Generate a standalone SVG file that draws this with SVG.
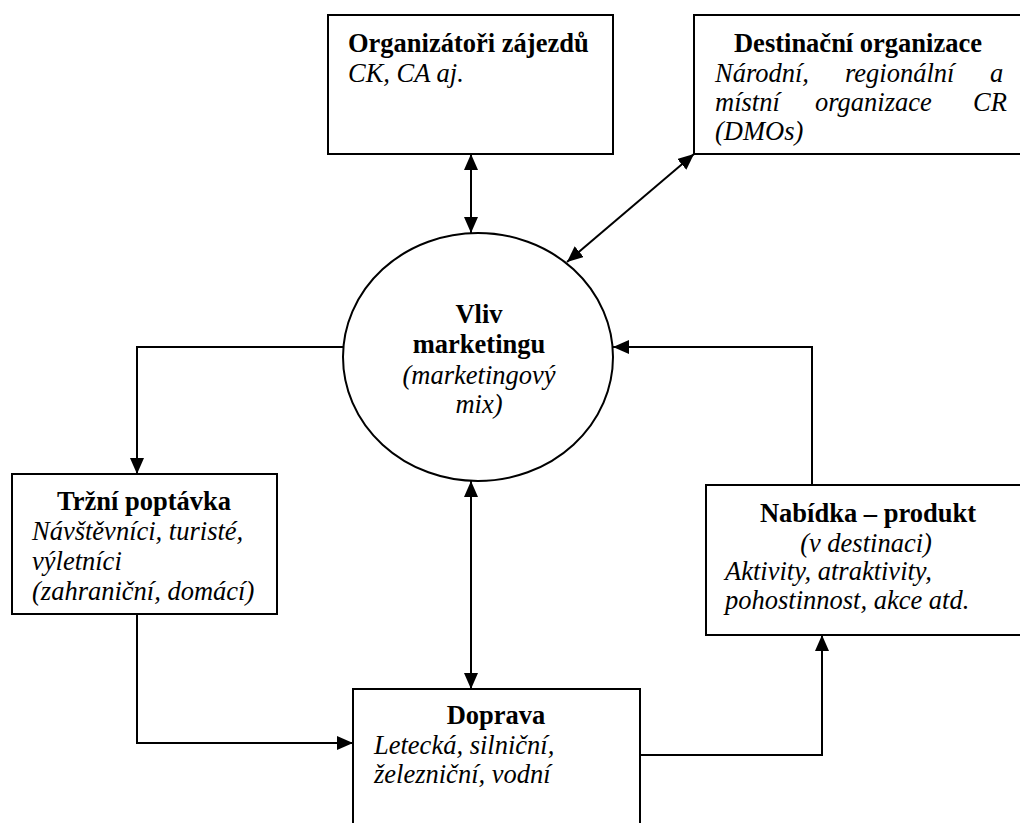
<svg xmlns="http://www.w3.org/2000/svg" width="1020" height="823" viewBox="0 0 1020 823">
<style>
.box{fill:#fff;stroke:#000;stroke-width:2}
.ell{fill:#fff;stroke:#000;stroke-width:2}
.con{fill:none;stroke:#000;stroke-width:2}
text{font-family:"Liberation Serif","Times New Roman",serif;font-size:26.5px;fill:#000}
.b{font-weight:bold}
.i{font-style:italic}
.m{text-anchor:middle}
.e{text-anchor:end}
</style>
<defs>
<marker id="arr" viewBox="0 0 16 14" refX="16" refY="7" markerWidth="16" markerHeight="14" markerUnits="userSpaceOnUse" orient="auto-start-reverse">
<path d="M0,0 L16,7 L0,14 z" fill="#000"/>
</marker>
</defs>
<rect width="1020" height="823" fill="#fff"/>
<g id="connectors">
<line class="con" x1="471" y1="154" x2="471" y2="233" marker-start="url(#arr)" marker-end="url(#arr)"/>
<line class="con" x1="694" y1="154" x2="567" y2="262" marker-start="url(#arr)" marker-end="url(#arr)"/>
<path class="con" d="M343,347 H137 V474" marker-end="url(#arr)"/>
<path class="con" d="M812,485 V347 H613" marker-end="url(#arr)"/>
<line class="con" x1="471" y1="481" x2="471" y2="689" marker-start="url(#arr)" marker-end="url(#arr)"/>
<path class="con" d="M137,614 V743 H353" marker-end="url(#arr)"/>
<path class="con" d="M640,755 H822 V635" marker-end="url(#arr)"/>
</g>
<g id="organizatori">
<rect class="box" x="328" y="15" width="285" height="139"/>
<text class="b" x="348" y="52">Organizátoři zájezdů</text>
<text class="i" x="348" y="82">CK, CA aj.</text>
</g>
<g id="destinacni">
<rect class="box" x="694" y="15" width="340" height="139"/>
<text class="b m" x="858" y="52">Destinační organizace</text>
<text class="i" y="82"><tspan x="715">Národní,</tspan><tspan x="845">regionální</tspan><tspan x="990">a</tspan></text>
<text class="i" y="111"><tspan x="715">místní</tspan><tspan x="815">organizace</tspan><tspan x="973">CR</tspan></text>
<text class="i" x="715" y="140">(DMOs)</text>
</g>
<g id="vliv">
<ellipse class="ell" cx="478" cy="357" rx="135" ry="124"/>
<text class="b m" x="479" y="323">Vliv</text>
<text class="b m" x="479" y="353">marketingu</text>
<text class="i m" x="479" y="384">(marketingový</text>
<text class="i m" x="479" y="413">mix)</text>
</g>
<g id="trzni">
<rect class="box" x="12" y="474" width="265" height="140"/>
<text class="b m" x="144" y="510">Tržní poptávka</text>
<text class="i" x="32" y="540">Návštěvníci, turisté,</text>
<text class="i" x="32" y="570">výletníci</text>
<text class="i" x="32" y="600">(zahraniční, domácí)</text>
</g>
<g id="nabidka">
<rect class="box" x="706" y="485" width="330" height="150"/>
<text class="b m" x="868" y="522">Nabídka – produkt</text>
<text class="i m" x="866" y="552">(v destinaci)</text>
<text class="i" x="725" y="580">Aktivity, atraktivity,</text>
<text class="i" x="725" y="609">pohostinnost, akce atd.</text>
</g>
<g id="doprava">
<rect class="box" x="353" y="689" width="287" height="160"/>
<text class="b m" x="496" y="724">Doprava</text>
<text class="i" x="374" y="754">Letecká, silniční,</text>
<text class="i" x="374" y="783">železniční, vodní</text>
</g>
</svg>
